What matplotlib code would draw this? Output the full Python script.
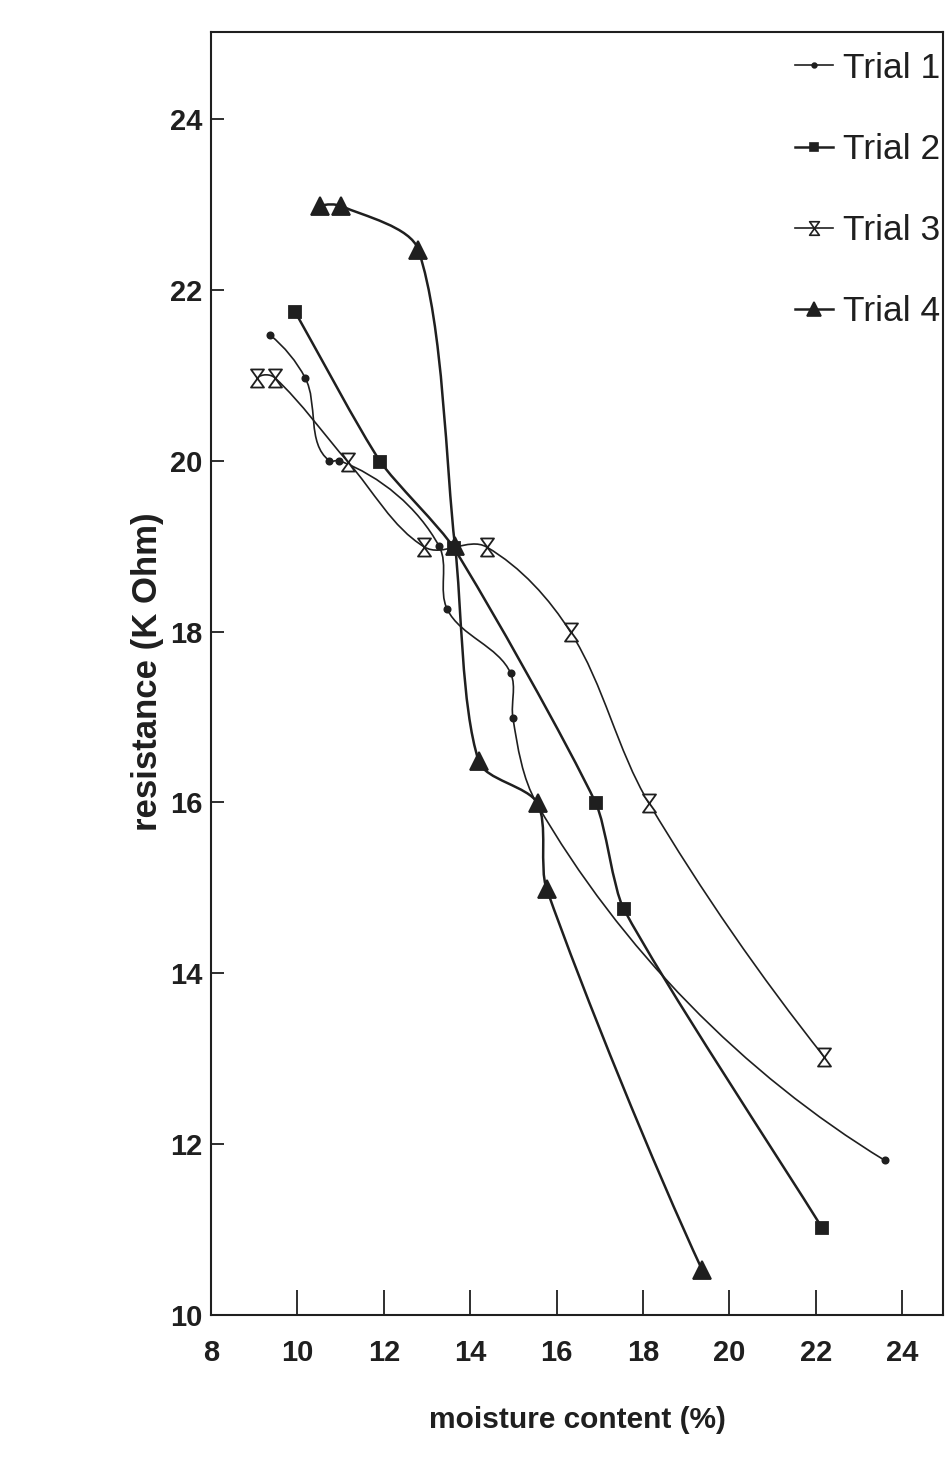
import numpy as np
import matplotlib
matplotlib.use("Agg")
import matplotlib.pyplot as plt
from matplotlib.path import Path
from matplotlib.patches import PathPatch
from matplotlib.lines import Line2D
from matplotlib import font_manager

# ---------------- data ----------------
trial1_x = [9.37, 10.18, 10.74, 10.97, 13.28, 13.47, 14.94, 14.99, 15.55, 23.6]
trial1_y = [21.47, 20.97, 20.00, 20.00, 19.00, 18.26, 17.51, 16.99, 15.98, 11.81]

trial2_x = [9.95, 11.92, 13.62, 16.91, 17.56, 22.15]
trial2_y = [21.74, 19.99, 18.98, 15.99, 14.75, 11.02]

trial3_x = [9.07, 9.48, 11.18, 12.94, 14.38, 16.33, 18.14, 22.20]
trial3_y = [20.97, 20.97, 19.98, 18.99, 18.99, 17.99, 15.99, 13.02]

trial4_x = [10.53, 11.02, 12.80, 13.65, 14.20, 15.56, 15.77, 19.37]
trial4_y = [22.98, 22.98, 22.47, 19.00, 16.48, 15.99, 14.99, 10.53]

series_labels = ["Trial 1", "Trial 2", "Trial 3", "Trial 4"]
x_ticks = [8, 10, 12, 14, 16, 18, 20, 22, 24]
y_ticks = [10, 12, 14, 16, 18, 20, 22, 24]
x_label = "moisture content (%)"
y_label = "resistance (K Ohm)"

# ---------------- fonts ----------------
names = {f.name for f in font_manager.fontManager.ttflist}
narrow = "Liberation Sans Narrow" if "Liberation Sans Narrow" in names else "Liberation Sans"
plt.rcParams["font.family"] = [narrow, "DejaVu Sans"]

INK = "#1f1f1f"

W, H = 948, 1483
fig = plt.figure(figsize=(W / 100, H / 100), dpi=100)
fig.patch.set_facecolor("white")
L, R, T, B = 211, 943, 32, 1315
SX, SY = 43.19, 85.43          # pixels per data unit
ax = fig.add_axes([L / W, 1 - B / H, (R - L) / W, (B - T) / H])
ax.set_xlim(8, 8 + (R - L) / SX)
ax.set_ylim(10, 10 + (B - T) / SY)

for s in ax.spines.values():
    s.set_linewidth(1.5)
    s.set_color(INK)


def _unit(v):
    n = np.linalg.norm(v)
    return v / n if n > 0 else v


def smooth_path(xs, ys, k=1 / 3, w=0.0, end="reflect"):
    """Smooth Bezier path through the given points.
    Tangents: blend of chord (Catmull-Rom direction) and Bessel directions."""
    P = np.column_stack([np.asarray(xs, float) * SX, np.asarray(ys, float) * SY])
    n = len(P)
    d = P[1:] - P[:-1]
    Ls = np.linalg.norm(d, axis=1)
    du = np.array([_unit(v) for v in d])
    u = np.zeros_like(P)
    for i in range(1, n - 1):
        cr = _unit(P[i + 1] - P[i - 1])
        be = _unit(Ls[i] * du[i - 1] + Ls[i - 1] * du[i])
        u[i] = _unit((1 - w) * cr + w * be)
    if n > 2 and end == "reflect":
        u[0] = _unit(2 * np.dot(u[1], du[0]) * du[0] - u[1])
        u[-1] = _unit(2 * np.dot(u[-2], du[-1]) * du[-1] - u[-2])
    else:
        u[0] = du[0]
        u[-1] = du[-1]
    verts = [P[0]]
    codes = [Path.MOVETO]
    for i in range(n - 1):
        c1 = P[i] + u[i] * Ls[i] * k
        c2 = P[i + 1] - u[i + 1] * Ls[i] * k
        verts += [c1, c2, P[i + 1]]
        codes += [Path.CURVE4] * 3
    verts = np.array(verts) / np.array([SX, SY])
    return Path(verts, codes)


hourglass = Path([(-0.72, 1), (0.72, 1), (-0.72, -1), (0.72, -1), (-0.72, 1)],
                 [Path.MOVETO, Path.LINETO, Path.LINETO, Path.LINETO, Path.CLOSEPOLY])

styles = [
    dict(x=trial1_x, y=trial1_y, lw=1.2, marker="o", ms=4.5, mfc=INK,
         k=1 / 3, w=0.5, end="reflect"),
    dict(x=trial2_x, y=trial2_y, lw=1.8, marker="s", ms=8.5, mfc=INK,
         k=0.22, w=0.0, end="chord"),
    dict(x=trial3_x, y=trial3_y, lw=1.2, marker=hourglass, ms=13, mfc="white",
         k=1 / 3, w=0.0, end="reflect"),
    dict(x=trial4_x, y=trial4_y, lw=1.8, marker="^", ms=13, mfc=INK,
         k=0.27, w=0.0, end="reflect"),
]

handles = []
for st, lab in zip(styles, series_labels):
    p = smooth_path(st["x"], st["y"], k=st["k"], w=st["w"], end=st["end"])
    ax.add_patch(PathPatch(p, facecolor="none", edgecolor=INK, lw=st["lw"],
                           transform=ax.transData, zorder=2))
    ax.plot(st["x"], st["y"], linestyle="none", marker=st["marker"], ms=st["ms"],
            mfc=st["mfc"], mec=INK, mew=1.3, zorder=3)
    handles.append(Line2D([], [], color=INK, lw=st["lw"], marker=st["marker"],
                          ms=st["ms"] * 0.75, mfc=st["mfc"], mec=INK, mew=1.2, label=lab))

ax.set_xticks(x_ticks)
ax.set_yticks(y_ticks)
ax.tick_params(axis="x", direction="in", length=18, width=1.3, pad=17, colors=INK,
               labelsize=21)
ax.tick_params(axis="y", direction="in", length=9, width=1.3, pad=6, colors=INK,
               labelsize=21)
for lbl in ax.get_xticklabels() + ax.get_yticklabels():
    lbl.set_fontweight("bold")

ax.set_xlabel(x_label, fontsize=21.5, fontweight="bold", color=INK)
ax.xaxis.set_label_coords((577 - L) / (R - L), (B - 1420) / (B - T))
ax.xaxis.label.set_va("center")

ax.set_ylabel(y_label, fontsize=25, fontweight="bold", color=INK)
ax.yaxis.label.set_rotation_mode("default")
ax.yaxis.label.set_va("center")
ax.yaxis.label.set_ha("center")
ax.yaxis.set_label_coords((148 - L) / (R - L), (B - 672) / (B - T))

leg = ax.legend(handles=handles, loc="upper right",
                bbox_to_anchor=((960 - L) / (R - L), 1.0),
                frameon=False, prop={"family": [narrow, "DejaVu Sans"], "size": 25.5},
                handlelength=1.07, handletextpad=0.28, labelspacing=1.36,
                borderaxespad=0.0, borderpad=0.56)
for t in leg.get_texts():
    t.set_color(INK)

fig.savefig("out.png", dpi=100, facecolor="white")
